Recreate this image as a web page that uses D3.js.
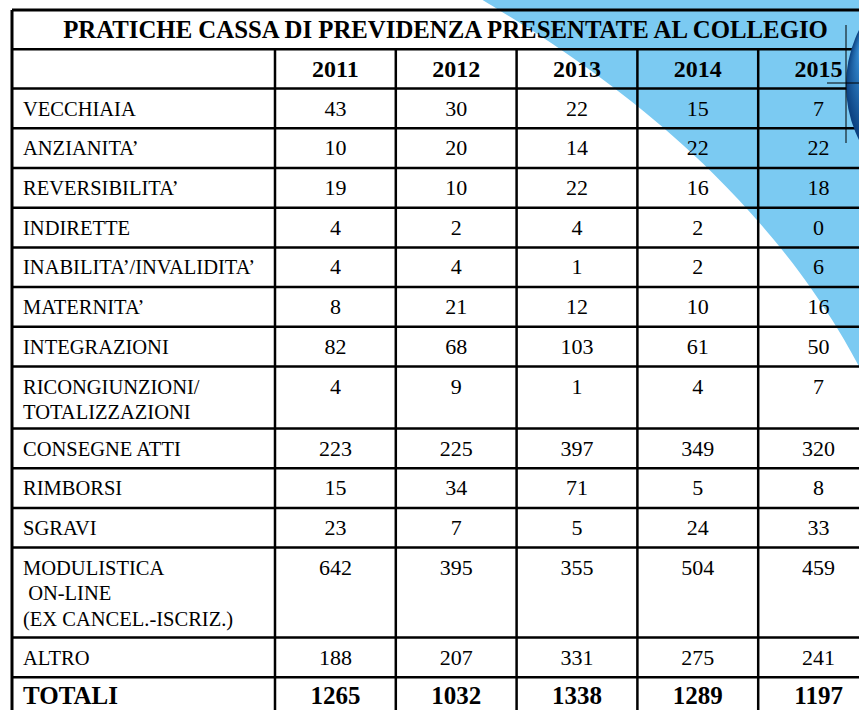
<!DOCTYPE html>
<html>
<head>
<meta charset="utf-8">
<script src="https://cdn.jsdelivr.net/npm/d3@7"></script>
<style>
  body { margin: 0; background: #fff; }
  svg text { font-family: "Liberation Serif", "DejaVu Serif", Tinos, "Times New Roman", Times, serif; fill: #000; }
  .label { font-size: 20.5px; }
  .val { font-size: 22px; }
  .head { font-size: 24px; font-weight: bold; }
  .title { font-size: 24.8px; font-weight: bold; }
  .tot { font-size: 25px; font-weight: bold; }
</style>
</head>
<body>
<div id="chart"></div>
<script>
// Data //
var title = "PRATICHE CASSA DI PREVIDENZA PRESENTATE AL COLLEGIO";
var years = ["2011", "2012", "2013", "2014", "2015"];
var categories = [
  ["VECCHIAIA"],
  ["ANZIANITA’"],
  ["REVERSIBILITA’"],
  ["INDIRETTE"],
  ["INABILITA’/INVALIDITA’"],
  ["MATERNITA’"],
  ["INTEGRAZIONI"],
  ["RICONGIUNZIONI/", "TOTALIZZAZIONI"],
  ["CONSEGNE ATTI"],
  ["RIMBORSI"],
  ["SGRAVI"],
  ["MODULISTICA", " ON-LINE", "(EX CANCEL.-ISCRIZ.)"],
  ["ALTRO"]
];
var v2011 = [43, 10, 19, 4, 4, 8, 82, 4, 223, 15, 23, 642, 188];
var v2012 = [30, 20, 10, 2, 4, 21, 68, 9, 225, 34, 7, 395, 207];
var v2013 = [22, 14, 22, 4, 1, 12, 103, 1, 397, 71, 5, 355, 331];
var v2014 = [15, 22, 16, 2, 2, 10, 61, 4, 349, 5, 24, 504, 275];
var v2015 = [7, 22, 18, 0, 6, 16, 50, 7, 320, 8, 33, 459, 241];
var totalLabel = "TOTALI";
var totals = [1265, 1032, 1338, 1289, 1197];

var series = [v2011, v2012, v2013, v2014, v2015];

// SVG Setup //
var width = 859, height = 710;
var tLeft = 12, labelW = 263, tRight = 879, tTop = 10;
var titleH = 39.3, headH = 39.3;
var rowH = {1: 39.7, 2: 62, 3: 90};

var svg = d3.select("#chart").append("svg")
  .attr("width", width)
  .attr("height", height)
  .style("display", "block");

// background swoosh
var swoosh = [[476, -4], [552, 42], [632, 100], [715, 172], [788, 254], [836, 324], [862, 372]];
var edge = d3.line().curve(d3.curveBasis);
svg.append("path")
  .attr("d", edge(swoosh) + "L900,372L900,-4Z")
  .attr("fill", "#7bcaf2");

// row layout
var rows = categories.map(function(c, i) {
  return {label: c, values: series.map(function(s) { return s[i]; }), h: rowH[c.length]};
});
rows.push({label: [totalLabel], values: totals, h: rowH[1], total: true});
var y0 = tTop + titleH + headH;
rows.forEach(function(r) { r.y = y0; y0 += r.h; });
var bottom = y0;

var x = d3.scaleBand()
  .domain(years)
  .range([tLeft + labelW, tRight]);

// title
svg.append("text")
  .attr("class", "title")
  .attr("x", (tLeft + tRight) / 2)
  .attr("y", tTop + 28)
  .attr("text-anchor", "middle")
  .text(title);

// header
svg.selectAll(".head")
  .data(years)
  .enter().append("text")
  .attr("class", "head")
  .attr("x", function(d) { return x(d) + x.bandwidth() / 2; })
  .attr("y", tTop + titleH + 28)
  .attr("text-anchor", "middle")
  .text(function(d) { return d; });

// rows
var gr = svg.selectAll(".row")
  .data(rows)
  .enter().append("g")
  .attr("class", "row")
  .attr("transform", function(d) { return "translate(0," + d.y + ")"; });

gr.append("text")
  .attr("class", function(d) { return d.total ? "tot" : "label"; })
  .attr("x", tLeft + 11)
  .attr("y", 27)
  .selectAll("tspan")
  .data(function(d) { return d.label; })
  .enter().append("tspan")
  .attr("x", tLeft + 11)
  .attr("dy", function(d, i) { return i ? 25.5 : 0; })
  .style("white-space", "pre")
  .text(function(d) { return d; });

gr.selectAll(".val")
  .data(function(d) { return d.values.map(function(v, i) { return {v: v, year: years[i], total: d.total}; }); })
  .enter().append("text")
  .attr("class", function(d) { return d.total ? "tot" : "val"; })
  .attr("x", function(d) { return x(d.year) + x.bandwidth() / 2; })
  .attr("y", 27)
  .attr("text-anchor", "middle")
  .text(function(d) { return d.v; });

// grid lines
var grid = svg.append("g").attr("stroke", "#000").attr("fill", "none");
var hy = [tTop, tTop + titleH, tTop + titleH + headH].concat(rows.map(function(r) { return r.y + r.h; }));
grid.selectAll(".h")
  .data(hy)
  .enter().append("line")
  .attr("x1", tLeft).attr("x2", tRight)
  .attr("y1", function(d) { return d; }).attr("y2", function(d) { return d; })
  .attr("stroke-width", function(d, i) { return i === 0 ? 3 : 2.5; });

var vx = [tLeft + labelW].concat(years.slice(1).map(function(d) { return x(d); }));
grid.selectAll(".v")
  .data(vx)
  .enter().append("line")
  .attr("x1", function(d) { return d; }).attr("x2", function(d) { return d; })
  .attr("y1", tTop + titleH).attr("y2", bottom)
  .attr("stroke-width", 2.5);

grid.append("line")
  .attr("x1", tLeft).attr("x2", tLeft)
  .attr("y1", tTop).attr("y2", bottom)
  .attr("stroke-width", 3);

// globe at right edge (only its left rim shows)
var defs = svg.append("defs");
var rg = defs.append("radialGradient").attr("id", "globe")
  .attr("cx", "0.5").attr("cy", "0.5").attr("r", "0.5")
  .attr("fx", "0.08").attr("fy", "0.3");
rg.append("stop").attr("offset", "0").attr("stop-color", "#f4faff");
rg.append("stop").attr("offset", "0.12").attr("stop-color", "#8cc6ee");
rg.append("stop").attr("offset", "0.4").attr("stop-color", "#2f82c8");
rg.append("stop").attr("offset", "1").attr("stop-color", "#0b3f7e");
svg.append("circle")
  .attr("cx", 969).attr("cy", 85).attr("r", 123)
  .attr("fill", "url(#globe)");

// crop marks
svg.append("line").attr("x1", 846).attr("x2", 846).attr("y1", 25).attr("y2", 143)
  .attr("stroke", "#000").attr("stroke-width", 1);
svg.append("line").attr("x1", 827).attr("x2", 860).attr("y1", 83).attr("y2", 83)
  .attr("stroke", "#000").attr("stroke-width", 1);
</script>
</body>
</html>
